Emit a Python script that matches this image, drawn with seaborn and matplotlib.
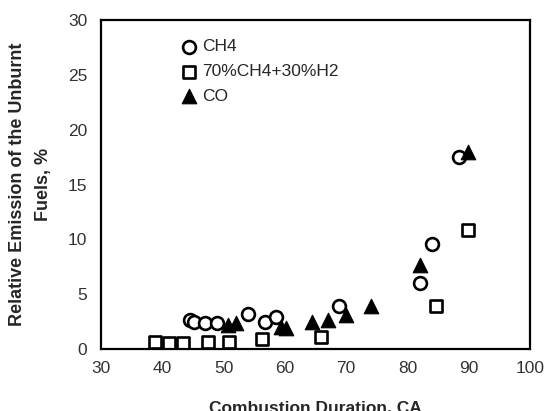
import numpy as np
import pandas as pd
import matplotlib
matplotlib.use("Agg")
import matplotlib.pyplot as plt
import seaborn as sns

# Data
ch4_x = [44.5, 45.2, 47.0, 48.9, 54.0, 56.8, 58.5, 68.8, 82.0, 84.0, 88.5]
ch4_y = [2.6, 2.5, 2.4, 2.35, 3.2, 2.5, 2.95, 3.9, 6.05, 9.55, 17.55]

mix_x = [38.8, 41.1, 43.3, 47.4, 50.9, 56.3, 65.9, 84.6, 89.9]
mix_y = [0.65, 0.55, 0.55, 0.6, 0.6, 0.9, 1.1, 3.95, 10.85]

co_x = [50.8, 52.0, 59.3, 60.2, 64.4, 67.0, 70.0, 74.0, 82.0, 89.9]
co_y = [2.2, 2.4, 2.0, 1.95, 2.45, 2.6, 3.1, 3.9, 7.7, 18.0]

labels = ["CH4", "70%CH4+30%H2", "CO"]
x_ticks = [30, 40, 50, 60, 70, 80, 90, 100]
y_ticks = [0, 5, 10, 15, 20, 25, 30]

sns.set_style("white")
plt.rcParams["font.family"] = ["Liberation Sans", "DejaVu Sans"]

fig = plt.figure(figsize=(5.52, 4.11), dpi=100)
ax = fig.add_axes([0.183, 0.151, 0.777, 0.80])

sns.scatterplot(x=ch4_x, y=ch4_y, ax=ax, marker="o", s=85,
                facecolor="white", edgecolor="black", linewidth=1.9, label=labels[0])
sns.scatterplot(x=mix_x, y=mix_y, ax=ax, marker="s", s=85,
                facecolor="white", edgecolor="black", linewidth=1.9, label=labels[1])
sns.scatterplot(x=co_x, y=co_y, ax=ax, marker="^", s=110,
                color="black", edgecolor="black", linewidth=0.8, label=labels[2])

ax.set_xlim(30, 100)
ax.set_ylim(0, 30)
ax.set_xticks(x_ticks)
ax.set_yticks(y_ticks)

for sp in ax.spines.values():
    sp.set_visible(True)
    sp.set_color("black")
    sp.set_linewidth(1.6)

ax.tick_params(axis="both", direction="inout", length=10, width=1.4,
               labelsize=12.5, colors="black", labelcolor="#333333")
ax.tick_params(axis="x", pad=4)
ax.tick_params(axis="y", pad=5)

ax.set_xlabel("Combustion Duration, CA", fontsize=12.5, fontweight="bold", labelpad=17)
ax.set_ylabel("Relative Emission of the Unburnt\nFuels, %", fontsize=13,
              fontweight="bold", labelpad=11, linespacing=1.75)

ax.legend(loc="upper left", bbox_to_anchor=(0.184, 0.942), frameon=False,
          fontsize=12.5, handletextpad=0.2, labelspacing=0.55, borderaxespad=0,
          borderpad=0, handlelength=1.1)

plt.savefig("out.png", dpi=100)
